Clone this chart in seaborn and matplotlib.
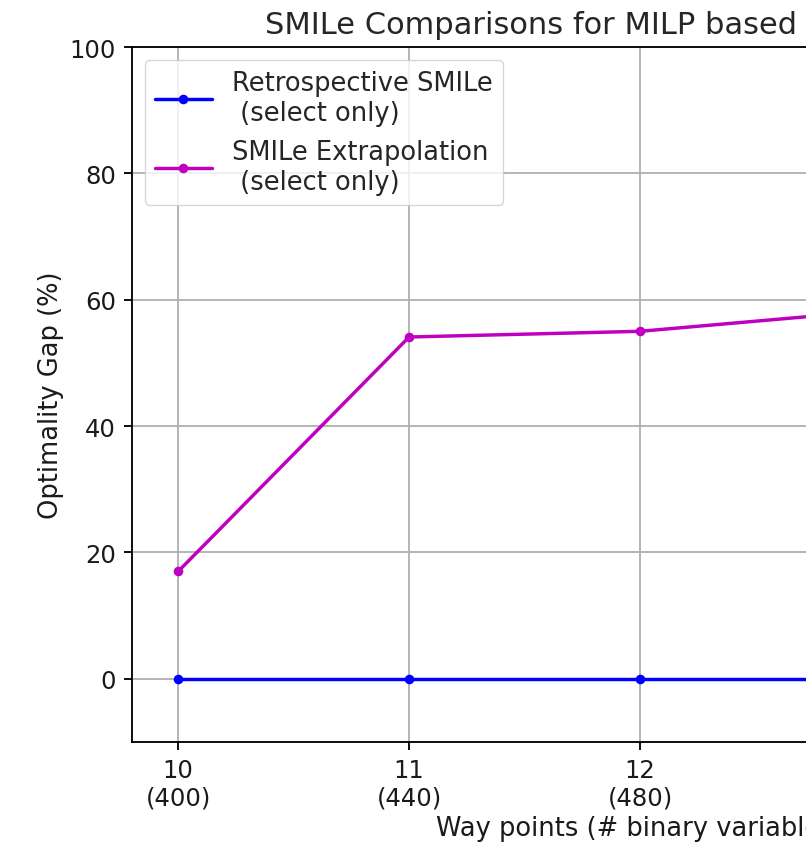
import numpy as np
import pandas as pd
import seaborn as sns
import matplotlib
matplotlib.use('Agg')
import matplotlib.pyplot as plt

# Data
way_points = [10, 11, 12, 13, 14]
binary_vars = [400, 440, 480, 520, 560]
retro_gap = [0.0, 0.0, 0.0, 0.0, 0.0]
extrap_gap = [17.0, 54.1, 55.0, 58.2, 60.0]

retro_label = 'Retrospective SMILe\n (select only)'
extrap_label = 'SMILe Extrapolation\n (select only)'
tick_labels = [f'{w}\n({b})' for w, b in zip(way_points, binary_vars)]

df = pd.DataFrame({'way points': way_points, 'retro': retro_gap, 'extrap': extrap_gap})

sns.set_style('ticks')
plt.rcParams['font.family'] = ['DejaVu Sans']

s = 1.65  # scale for the enlarged look
plt.rc('font', size=17.5)
plt.rc('axes', titlesize=22, labelsize=18.5)
plt.rc('xtick', labelsize=17.5)
plt.rc('ytick', labelsize=17.5)
plt.rc('legend', fontsize=18.5)

fig = plt.figure(figsize=(8.06, 8.53), dpi=100)
# axes run past the right edge, like the cropped original
ax = fig.add_axes([132 / 806, 110 / 853, 1016 / 806, 695 / 853])

sns.lineplot(data=df, x='way points', y='retro', ax=ax, color='b', marker='o',
             markersize=4.2 * s, markeredgewidth=0, linewidth=1.5 * s, label=retro_label)
sns.lineplot(data=df, x='way points', y='extrap', ax=ax, color='m', marker='o',
             markersize=4.2 * s, markeredgewidth=0, linewidth=1.5 * s, label=extrap_label)

ax.set_ylim(-10, 100)
ax.set_yticks([0, 20, 40, 60, 80, 100])
ax.set_xticks(way_points)
ax.set_xticklabels(tick_labels)
ax.grid(True, color='#b0b0b0', linewidth=0.8 * s)
for sp in ax.spines.values():
    sp.set_color('black')
    sp.set_linewidth(0.8 * s)
ax.tick_params(colors='black', labelcolor='#1a1a1a', width=0.8 * s, length=3.5 * s, pad=3.5 * s)

ax.set_title('SMILe Comparisons for MILP based Path Planning', pad=6 * s)
ax.set_xlabel('Way points (# binary variables)', color='#1a1a1a')
ax.set_ylabel('Optimality Gap (%)', color='#1a1a1a')
ax.legend(loc='upper left', framealpha=0.8, edgecolor='#cccccc', handlelength=2.2)

fig.savefig('out.png', dpi=100)
